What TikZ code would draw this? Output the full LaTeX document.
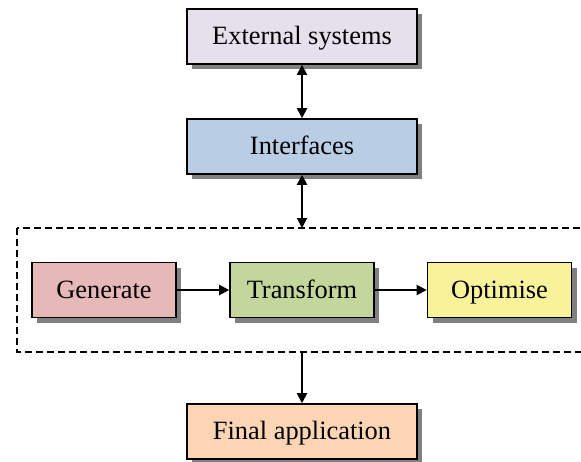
\documentclass[tikz,border=0pt]{standalone}
\usepackage{fontspec}
\setmainfont{Liberation Serif}
\usetikzlibrary{arrows.meta,shadows}
\definecolor{extc}{HTML}{E6E0EC}
\definecolor{ifcc}{HTML}{B9CDE5}
\definecolor{genc}{HTML}{E6B9B8}
\definecolor{trfc}{HTML}{C3D69B}
\definecolor{optc}{HTML}{F8F39B}
\definecolor{finc}{HTML}{FCD5B5}
\definecolor{shc}{HTML}{808080}
\tikzset{
  bx/.style={draw=black,line width=0.8pt,fill=#1,minimum height=27.5pt,inner sep=0pt,
    text height=10pt,text depth=2pt,
    font=\fontsize{13.2}{16}\selectfont,
    drop shadow={shadow xshift=2.5pt,shadow yshift=-2.5pt,fill=shc,opacity=1}},
  wide/.style={minimum width=115pt},
  small/.style={minimum width=72pt},
  ar/.style={-{Triangle[length=5pt,width=5pt]},line width=1pt},
  dar/.style={{Triangle[length=5pt,width=5pt]}-{Triangle[length=5pt,width=5pt]},line width=1pt}
}

\begin{document}
\begin{tikzpicture}[x=0.5pt,y=-0.5pt]
\useasboundingbox (0,0) rectangle (581,461);
\clip (0,0) rectangle (581,461);
% outer side
\node[bx=extc,wide] (ext) at (302,36.5) {External systems};
\node[bx=ifcc,wide] (ifc) at (302,146.5) {Interfaces};
% dashed group
\draw[dash pattern=on 3.5pt off 2pt,line width=0.6pt] (17,228) rectangle (620,352);
\coordinate (gtop) at (302,228);
\coordinate (gbot) at (302,352);
\node[bx=genc,small] (gen) at (104,290) {Generate};
\node[bx=trfc,small] (trf) at (302,290) {Transform};
\node[bx=optc,small] (opt) at (499.5,290) {Optimise};
% result
\node[bx=finc,wide] (fin) at (302,431.5) {Final application};
\draw[dar] (ext) -- (ifc);
\draw[dar] (ifc) -- (gtop);
\draw[ar] (gen) -- (trf);
\draw[ar] (trf) -- (opt);
\draw[ar] (gbot) -- (fin);
\end{tikzpicture}
\end{document}
